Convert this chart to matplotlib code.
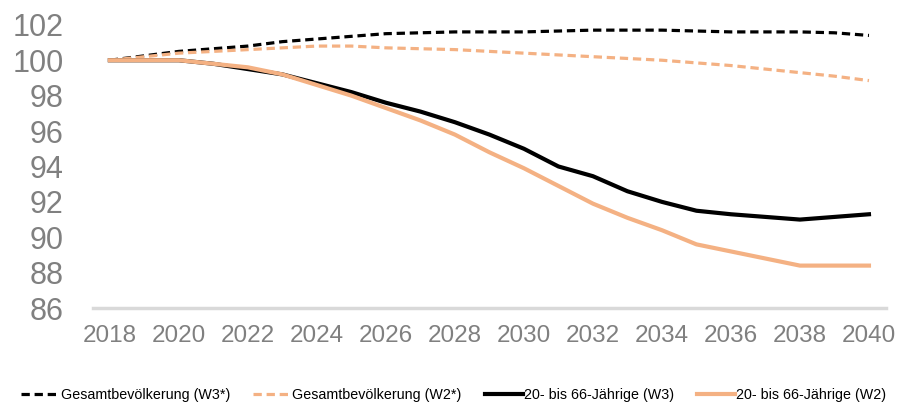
import numpy as np
import matplotlib.pyplot as plt

plt.rcParams['font.family'] = ['Liberation Sans', 'DejaVu Sans']

years = list(range(2018, 2041))
gesamt_w3 = [100.0, 100.25, 100.5, 100.65, 100.8, 101.05, 101.2, 101.35, 101.5, 101.55, 101.6,
             101.6, 101.6, 101.65, 101.7, 101.7, 101.7, 101.65, 101.6, 101.6, 101.6, 101.55, 101.4]
gesamt_w2 = [100.0, 100.2, 100.4, 100.5, 100.6, 100.7, 100.8, 100.8, 100.7, 100.65, 100.6,
             100.5, 100.4, 100.3, 100.2, 100.1, 100.0, 99.85, 99.7, 99.5, 99.3, 99.1, 98.85]
erw_w3 = [100.0, 100.0, 100.0, 99.8, 99.5, 99.2, 98.7, 98.2, 97.6, 97.1, 96.5,
          95.8, 95.0, 94.0, 93.45, 92.6, 92.0, 91.5, 91.3, 91.15, 91.0, 91.15, 91.3]
erw_w2 = [100.0, 100.0, 100.0, 99.8, 99.6, 99.2, 98.6, 98.0, 97.3, 96.6, 95.8,
          94.8, 93.9, 92.9, 91.9, 91.1, 90.4, 89.6, 89.2, 88.8, 88.4, 88.4, 88.4]
labels = ["Gesamtbevölkerung (W3*)", "Gesamtbevölkerung (W2*)",
          "20- bis 66-Jährige (W3)", "20- bis 66-Jährige (W2)"]

orange = '#F4B183'
grey = '#808080'

fig = plt.figure(figsize=(9.08, 4.07), dpi=100)
ax = fig.add_axes([0.102, 0.243, 0.874, 0.696])

ax.plot(years, gesamt_w3, color='black', lw=2.3, linestyle=(0, (2.6, 1.5)), label=labels[0])
ax.plot(years, gesamt_w2, color=orange, lw=2.3, linestyle=(0, (2.6, 1.5)), label=labels[1])
ax.plot(years, erw_w3, color='black', lw=3, label=labels[2])
ax.plot(years, erw_w2, color=orange, lw=3, label=labels[3])

ax.set_xlim(2017.5, 2040.5)
ax.set_ylim(86, 102)
ax.set_xticks(range(2018, 2041, 2))
ax.set_yticks(range(86, 103, 2))

for s in ['top', 'right', 'left']:
    ax.spines[s].set_visible(False)
ax.spines['bottom'].set_color('#d9d9d9')
ax.spines['bottom'].set_linewidth(2.5)

ax.tick_params(axis='y', length=0, pad=21, labelsize=22, labelcolor=grey)
ax.tick_params(axis='x', length=0, pad=12, labelsize=17.5, labelcolor=grey)

fig.legend(loc='lower center', bbox_to_anchor=(0.5, -0.02), ncol=4, frameon=False,
           fontsize=10.3, handlelength=2.65, handletextpad=0.1, columnspacing=1.6)

fig.savefig('out.png', dpi=100)
